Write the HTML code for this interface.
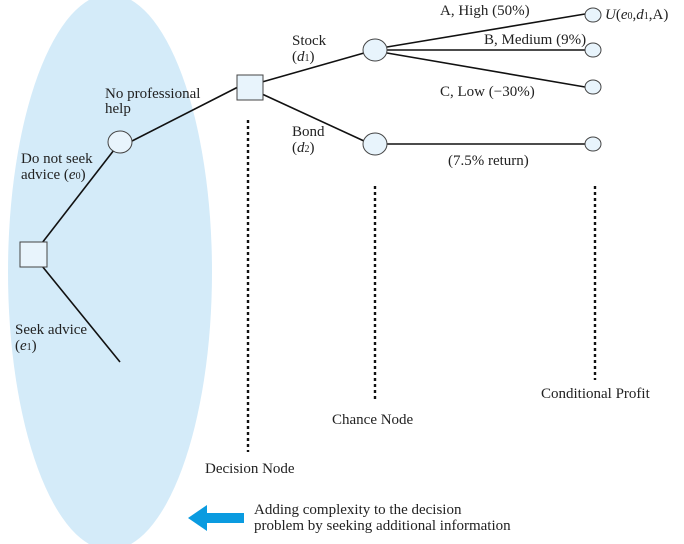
<!DOCTYPE html>
<html><head><style>body{margin:0;background:#fff}svg{display:block}text{font-family:"Liberation Serif",serif;font-size:15px;fill:#222}</style></head>
<body>
<svg width="684" height="544" viewBox="0 0 684 544" xmlns="http://www.w3.org/2000/svg">
<ellipse cx="110" cy="272" rx="102" ry="278" fill="#d4ebf9"/>
<g stroke="#111" stroke-width="1.6" fill="none">
<line x1="42" y1="243" x2="114" y2="150"/>
<line x1="42" y1="266" x2="120" y2="362"/>
<line x1="132" y1="141" x2="238" y2="87"/>
<line x1="262" y1="82" x2="364" y2="53"/>
<line x1="262" y1="94" x2="364" y2="141"/>
<line x1="387" y1="47" x2="585" y2="14"/>
<line x1="387" y1="50" x2="585" y2="50"/>
<line x1="387" y1="53" x2="585" y2="87"/>
<line x1="387" y1="144" x2="585" y2="144"/>
</g>
<g stroke="#111" stroke-width="2.4" stroke-dasharray="3,3">
<line x1="248" y1="120" x2="248" y2="452"/>
<line x1="375" y1="186" x2="375" y2="402"/>
<line x1="595" y1="186" x2="595" y2="380"/>
</g>
<g stroke="#444" stroke-width="1" fill="#e8f4fc">
<rect x="20" y="242" width="27" height="25"/>
<rect x="237" y="75" width="26" height="25"/>
<ellipse cx="120" cy="142" rx="12" ry="11"/>
<ellipse cx="375" cy="50" rx="12" ry="11"/>
<ellipse cx="375" cy="144" rx="12" ry="11"/>
<ellipse cx="593" cy="15" rx="8" ry="7"/>
<ellipse cx="593" cy="50" rx="8" ry="7"/>
<ellipse cx="593" cy="87" rx="8" ry="7"/>
<ellipse cx="593" cy="144" rx="8" ry="7"/>
</g>
<text x="105" y="98">No professional</text><text x="105" y="113">help</text>
<text x="21" y="163">Do not seek</text><text x="21" y="179">advice (<tspan font-style="italic">e</tspan><tspan font-size="10">0</tspan>)</text>
<text x="15" y="334">Seek advice</text><text x="15" y="350">(<tspan font-style="italic">e</tspan><tspan font-size="10">1</tspan>)</text>
<text x="292" y="45">Stock</text><text x="292" y="61">(<tspan font-style="italic">d</tspan><tspan font-size="10">1</tspan>)</text>
<text x="292" y="136">Bond</text><text x="292" y="152">(<tspan font-style="italic">d</tspan><tspan font-size="10">2</tspan>)</text>
<text x="440" y="15">A, High (50%)</text>
<text x="484" y="44">B, Medium (9%)</text>
<text x="440" y="96">C, Low (−30%)</text>
<text x="448" y="165">(7.5% return)</text>
<text x="605" y="19"><tspan font-style="italic">U</tspan>(<tspan font-style="italic">e</tspan><tspan font-size="10">0</tspan>,<tspan font-style="italic">d</tspan><tspan font-size="10">1</tspan>,A)</text>
<text x="205" y="473">Decision Node</text>
<text x="332" y="424">Chance Node</text>
<text x="541" y="398">Conditional Profit</text>
<text x="254" y="514">Adding complexity to the decision</text>
<text x="254" y="530">problem by seeking additional information</text>
<polygon points="188,518 207,505 207,513 244,513 244,523 207,523 207,531" fill="#0a9be0"/>
</svg>
</body></html>
